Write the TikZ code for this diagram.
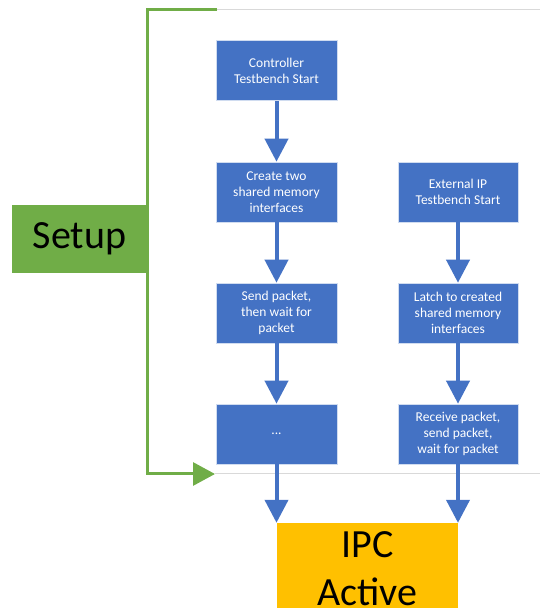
\documentclass[tikz,border=0pt]{standalone}
\usepackage{fontspec}
\setmainfont{Carlito}
\usetikzlibrary{arrows.meta,calc}
\definecolor{stepblue}{HTML}{4472C4}
\definecolor{setupgreen}{HTML}{70AD47}
\definecolor{ipcyellow}{HTML}{FFC000}
\definecolor{rulegray}{HTML}{D9D9D9}

\begin{document}
\begin{tikzpicture}[x=1pt,y=1pt,
  stepbox/.style={rectangle, fill=stepblue, draw=white!75!stepblue, line width=0.6pt,
    minimum width=121pt, minimum height=60pt, inner sep=2pt, text=white, align=center,
    font=\fontsize{13.5}{16}\selectfont},
  flow/.style={draw=stepblue, line width=4pt, -{Triangle[width=23pt,length=23pt]}},
  bracket/.style={draw=setupgreen, line width=3pt, -{Triangle[width=23pt,length=22pt]}},
  rule/.style={draw=rulegray, line width=1pt},
  phase/.style={rectangle, inner sep=0pt, text=black, align=center,
    font=\fontsize{40}{48}\selectfont}]
\useasboundingbox (0,0) rectangle (540,608);
\clip (0,0) rectangle (540,608);

% phase boxes
\node[phase, fill=setupgreen, minimum width=135pt, minimum height=68pt] (setup) at (79.5,369) {Setup};
\node[phase, fill=ipcyellow, minimum width=181pt, minimum height=92pt] (ipc) at (367.5,39) {IPC\\Active};

% controller testbench column
\node[stepbox] (c1) at (276.5,537.5) {Controller\\Testbench Start};
\node[stepbox] (c2) at (276.5,416) {Create two\\shared memory\\interfaces};
\node[stepbox] (c3) at (276.5,295) {Send packet,\\then wait for\\packet};
\node[stepbox] (c4) at (276.5,174) {...};

% external IP testbench column
\node[stepbox, minimum width=120pt] (e1) at (458,416) {External IP\\Testbench Start};
\node[stepbox, minimum width=120pt] (e2) at (458,295) {Latch to created\\shared memory\\interfaces};
\node[stepbox, minimum width=120pt] (e3) at (458,174) {Receive packet,\\send packet,\\wait for packet};

% phase separator rules
\coordinate (topend) at (217,598);
\coordinate (rtop) at (540,598);
\coordinate (botend) at (215,134);
\coordinate (rbot) at (540,134);
\draw[rule] (topend) -- (rtop);
\draw[rule] (botend) -- (rbot);

% setup bracket
\draw[bracket] (topend) -| (setup.east) |- (botend);

% flow arrows
\draw[flow] (c1) -- (c2);
\draw[flow] (c2) -- (c3);
\draw[flow] (c3) -- (c4);
\draw[flow] (c4) -- (c4 |- ipc.north);
\draw[flow] (e1) -- (e2);
\draw[flow] (e2) -- (e3);
\draw[flow] (e3) -- (e3 |- ipc.north);
\end{tikzpicture}
\end{document}
